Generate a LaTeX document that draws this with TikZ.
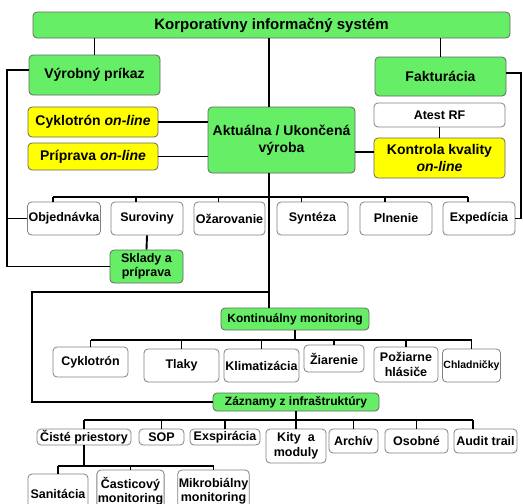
\documentclass[tikz,border=0pt]{standalone}
\usepackage{fontspec}
\setmainfont{Liberation Sans}
\definecolor{boxgreen}{RGB}{102,238,102}
\definecolor{boxyellow}{RGB}{255,255,0}

\begin{document}
\begin{tikzpicture}[x=1pt, y=-1pt, line width=1.9pt,
    box/.style={draw=black!50, line width=0.8pt, rounded corners=4pt, align=center, inner sep=1pt,
      font=\bfseries\fontsize{12.5}{14.5}\selectfont},
    grnbox/.style={box, fill=boxgreen, draw=black!60},
    ylwbox/.style={box, fill=boxyellow, draw=black!60},
    whtbox/.style={box, fill=white},
    bigtext/.style={font=\bfseries\fontsize{14}{17.5}\selectfont},
    sz/.style 2 args={minimum width=#1, minimum height=#2}]
    \path[use as bounding box, clip] (0,0) rectangle (523,504);

    \node[grnbox, sz={477}{26}, font=\bfseries\fontsize{15}{17}\selectfont] (kis) at (271.5,25) {Korporatívny informačný systém};

    \node[grnbox, bigtext, sz={131}{40}] (vyr) at (94.5,75) {Výrobný príkaz};
    \node[grnbox, bigtext, sz={131}{39}] (fakt) at (440.5,76.5) {Fakturácia};
    \node[ylwbox, bigtext, sz={130}{30}] (cyk) at (93,122) {Cyklotrón \textit{on-line}};
    \node[ylwbox, bigtext, sz={130}{27}] (prip) at (93,156.5) {Príprava \textit{on-line}};
    \node[grnbox, bigtext, sz={147}{66}] (akt) at (281.5,140) {Aktuálna / Ukončená\\výroba};
    \node[whtbox, sz={131}{24}] (atest) at (439.5,115) {Atest RF};
    \node[ylwbox, bigtext, sz={131}{40}] (kont) at (439.5,158) {Kontrola kvality\\\textit{on-line}};

    \node[whtbox, sz={72}{33}] (obj) at (64,218.5) {Objednávka};
    \node[whtbox, sz={72}{33}] (sur) at (147,218.5) {Suroviny};
    \node[whtbox, sz={71}{33}] (oza) at (229.5,218.5) {Ožarovanie};
    \node[whtbox, sz={71}{33}] (syn) at (312.5,218.5) {Syntéza};
    \node[whtbox, sz={72}{33}] (pln) at (396,218.5) {Plnenie};
    \node[whtbox, sz={72}{33}] (exp) at (479,218.5) {Expedícia};
    \node[grnbox, sz={73}{33}] (skl) at (146.5,266.5) {Sklady a\\príprava};

    \node[grnbox, sz={148}{22}, font=\bfseries\fontsize{12}{14}\selectfont] (kmon) at (295,319) {Kontinuálny monitoring};
    \node[whtbox, sz={75}{30}] (cyk2) at (90.5,362) {Cyklotrón};
    \node[whtbox, sz={75}{33}] (tlak) at (181.5,365.5) {Tlaky};
    \node[whtbox, sz={75}{33}] (klim) at (261.5,365.5) {Klimatizácia};
    \node[whtbox, sz={60}{27}] (ziar) at (334,358.5) {Žiarenie};
    \node[whtbox, sz={64}{35}] (poz) at (406,364.5) {Požiarne\\hlásiče};
    \node[whtbox, sz={57}{33}, font=\bfseries\fontsize{10.5}{12}\selectfont] (chl) at (471.5,365.5) {Chladničky};

    \node[grnbox, sz={166}{18}, font=\bfseries\fontsize{12}{14}\selectfont] (zaz) at (296,402) {Záznamy z infraštruktúry};
    \node[whtbox, sz={94}{16}] (cis) at (84,437) {Čisté priestory};
    \node[whtbox, sz={45}{16}] (sop) at (161.5,437) {SOP};
    \node[whtbox, sz={70}{16}] (exs) at (225,437) {Exspirácia};
    \node[whtbox, sz={60}{34}] (kity) at (296,446) {Kity\ \ a\\moduly};
    \node[whtbox, sz={49}{24}] (arch) at (353.5,441) {Archív};
    \node[whtbox, sz={63}{24}] (oso) at (416.5,441) {Osobné};
    \node[whtbox, sz={63}{24}] (aud) at (485.5,441) {Audit trail};

    \node[whtbox, sz={60}{40}] (san) at (58,494) {Sanitácia};
    \node[whtbox, sz={65}{42}] (cas) at (130.5,491) {Časticový\\monitoring};
    \node[whtbox, sz={71}{42}] (mik) at (213.5,491) {Mikrobiálny\\monitoring};

    \coordinate (spine) at (269,0);
    \coordinate (vl) at (7,70);
    \coordinate (vr) at (521,73);
    \coordinate (zl) at (32,292);
    \coordinate (brk) at (269,292);
    \coordinate (b1) at (0,197);
    \coordinate (b2) at (0,340);
    \coordinate (b3) at (0,420);
    \coordinate (b4) at (0,466);

    \draw (vyr.north) -- (vyr.north |- kis.south);
    \draw (fakt.north) -- (fakt.north |- kis.south);
    \draw (kis.south -| spine) -- (akt.north -| spine);
    \draw (akt.south -| spine) -- (kmon.north -| spine);

    \draw ([yshift=5pt]vyr.west) -- (vl) |- (skl.west);
    \draw (obj.west) -- (obj.west -| vl);
    \draw ([yshift=3.5pt]fakt.east) -- (vr) |- (exp.east);

    \draw (cyk.east) -- (cyk.east -| akt.west);
    \draw (prip.east) -- (prip.east -| akt.west);
    \coordinate (kw) at ([yshift=6pt]kont.west);
    \draw (kw) -- (kw -| akt.east);
    \draw (atest.south) -- (kont.north);

    \foreach \n in {obj,sur,oza,syn,pln,exp}
      \coordinate (\n-t) at ([xshift=-11pt]\n.north);
    \draw (obj-t |- b1) -- (exp-t |- b1);
    \foreach \n in {obj,sur,oza,syn,pln,exp}
      \draw (\n-t) -- (\n-t |- b1);
    \draw (sur.south) -- (skl.north);

    \draw (brk) -- (zl) |- (zaz.west);

    \draw (kmon.south) -- (kmon.south |- b2);
    \draw (cyk2.north |- b2) -- (chl.north |- b2);
    \foreach \n in {cyk2,tlak,klim,ziar,poz,chl}
      \draw (\n.north) -- (\n.north |- b2);

    \coordinate (audt) at ([xshift=-12.5pt]aud.north);
    \draw (zaz.south) -- (zaz.south |- b3);
    \draw (cis.north |- b3) -- (audt |- b3);
    \foreach \n in {cis,sop,exs,kity,arch,oso}
      \draw (\n.north) -- (\n.north |- b3);
    \draw (audt) -- (audt |- b3);

    \draw (cis.south) -- (cis.south |- b4);
    \draw (san.north |- b4) -- (mik.north |- b4);
    \foreach \n in {san,cas,mik}
      \draw (\n.north) -- (\n.north |- b4);
\end{tikzpicture}
\end{document}
